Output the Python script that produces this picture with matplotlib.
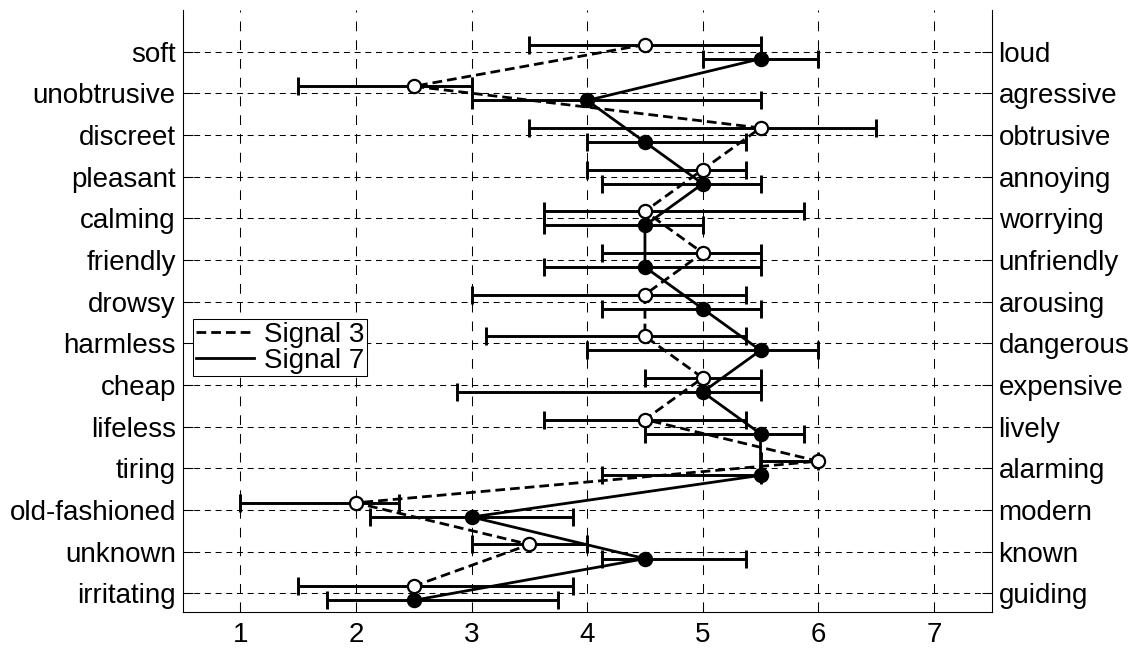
import numpy as np
import matplotlib
matplotlib.use("Agg")
from matplotlib import pyplot as plt

plt.rcParams['font.family'] = ['Liberation Sans', 'DejaVu Sans']
plt.rcParams['lines.scale_dashes'] = False

# semantic differential pairs, top to bottom
left_labels = ['soft', 'unobtrusive', 'discreet', 'pleasant', 'calming', 'friendly',
               'drowsy', 'harmless', 'cheap', 'lifeless', 'tiring', 'old-fashioned',
               'unknown', 'irritating']
right_labels = ['loud', 'agressive', 'obtrusive', 'annoying', 'worrying', 'unfriendly',
                'arousing', 'dangerous', 'expensive', 'lively', 'alarming', 'modern',
                'known', 'guiding']

# signal 3: median and range
s3_mid = [4.5, 2.5, 5.5, 5.0, 4.5, 5.0, 4.5, 4.5, 5.0, 4.5, 6.0, 2.0, 3.5, 2.5]
s3_low = [3.5, 1.5, 3.5, 4.0, 3.625, 4.125, 3.0, 3.125, 4.5, 3.625, 5.5, 1.0, 3.0, 1.5]
s3_high = [5.5, 3.0, 6.5, 5.375, 5.875, 5.5, 5.375, 5.375, 5.5, 5.375, 6.0, 2.375, 4.0, 3.875]

# signal 7
s7_mid = [5.5, 4.0, 4.5, 5.0, 4.5, 4.5, 5.0, 5.5, 5.0, 5.5, 5.5, 3.0, 4.5, 2.5]
s7_low = [5.0, 3.0, 4.0, 4.125, 3.625, 3.625, 4.125, 4.0, 2.875, 4.5, 4.125, 2.125, 4.125, 1.75]
s7_high = [6.0, 5.5, 5.375, 5.5, 5.0, 5.5, 5.5, 6.0, 5.5, 5.875, 5.5, 3.875, 5.375, 3.75]

n = len(left_labels)
rows = np.arange(n, 0, -1)
off = 0.17
FS = 20

fig = plt.figure(figsize=(11.32, 6.70), dpi=100)
ax = fig.add_axes([0.1614, 0.0866, 0.876 - 0.1614, 0.985 - 0.0866])

# grid by hand so vertical and horizontal dashes can differ
for xv in range(1, 8):
    ax.axvline(xv, color='k', lw=0.75, linestyle=(0, (7, 6.5)), zorder=0)
for yv in rows:
    ax.axhline(yv, color='k', lw=0.75, linestyle=(0, (4.3, 3.4)), zorder=0)

for mid, low, high, dy, ls, face, lab in [
        (s3_mid, s3_low, s3_high, off, (0, (7, 3.6)), 'white', 'Signal 3'),
        (s7_mid, s7_low, s7_high, -off, '-', 'black', 'Signal 7')]:
    mid = np.array(mid)
    y = rows + dy
    err = [mid - np.array(low), np.array(high) - mid]
    ax.errorbar(mid, y, xerr=err, fmt='none', ecolor='k', elinewidth=2.1,
                capsize=6.5, capthick=2.1, zorder=2)
    ax.plot(mid, y, color='k', lw=2.0, linestyle=ls, label=lab, zorder=3)
    ax.plot(mid, y, 'o', ms=9.5, mfc=face, mec='k', mew=1.6, zorder=4)

ax.set_xlim(0.5, 7.5)
ax.set_ylim(0.55, 15)
ax.set_xticks(range(1, 8))
ax.set_yticks(rows)
ax.set_yticklabels(left_labels)
ax.tick_params(direction='in', length=7, width=0.75, labelsize=FS)
ax.tick_params(axis='x', pad=7)
ax.tick_params(axis='y', pad=5)
ax.spines['top'].set_visible(False)
for s in ax.spines.values():
    s.set_linewidth(0.75)

ax2 = ax.twinx()
ax2.set_ylim(ax.get_ylim())
ax2.set_yticks(rows)
ax2.set_yticklabels(right_labels)
ax2.tick_params(direction='in', length=7, width=0.75, labelsize=FS, pad=5)
ax2.spines['top'].set_visible(False)
for s in ax2.spines.values():
    s.set_linewidth(0.75)

leg = ax.legend(loc='upper left', bbox_to_anchor=(0.0127, 0.487), fontsize=FS,
                frameon=True, fancybox=False, edgecolor='k', framealpha=1,
                borderpad=0.1, labelspacing=0.0, handlelength=2.1,
                handletextpad=0.35, borderaxespad=0)
leg.get_frame().set_linewidth(0.75)

fig.savefig('out.png', dpi=100)
